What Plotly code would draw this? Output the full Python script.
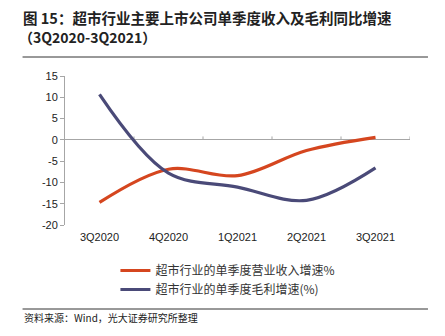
import plotly.graph_objects as go

categories = ["3Q2020", "4Q2020", "1Q2021", "2Q2021", "3Q2021"]
revenue_growth = [-14.7, -6.9, -8.4, -2.5, 0.6]
gross_profit_growth = [10.7, -7.8, -11.1, -14.2, -6.6]
y_ticks = [15, 10, 5, 0, -5, -10, -15, -20]

series_names = ["超市行业的单季度营业收入增速%", "超市行业的单季度毛利增速(%)"]
colors = ["#D5461F", "#4A4A78"]

W, H = 445, 336
L, R, T, B = 64.5, 35, 76, 111
PW, PH = W - L - R, H - T - B


def px(x):
    return (x - L) / PW


def py(y):
    return (H - y - B) / PH


fig = go.Figure()
for name, vals, c in zip(series_names, [revenue_growth, gross_profit_growth], colors):
    fig.add_trace(go.Scatter(
        x=list(range(len(categories))), y=vals, name=name, mode="lines",
        line=dict(color=c, width=3.2, shape="spline", smoothing=1.0),
    ))

# small tick marks on the zero-line x axis at category boundaries
for b in [0.5, 1.5, 2.5, 3.5, 4.5]:
    fig.add_shape(type="line", xref="x", yref="y", x0=b, x1=b, y0=0, y1=0.8,
                  line=dict(color="#A6A6A6", width=1), layer="below")

fig.update_layout(
    width=W, height=H,
    margin=dict(l=L, r=R, t=T, b=B),
    paper_bgcolor="white", plot_bgcolor="white",
    font=dict(family="Liberation Sans, Arial, sans-serif", size=11, color="#222222"),
    showlegend=True,
    legend=dict(
        x=px(115), y=py(256),
        xanchor="left", yanchor="top",
        font=dict(family="Noto Sans CJK SC", size=12, color="#333333"),
        tracegroupgap=0, itemwidth=30, bgcolor="rgba(0,0,0,0)",
    ),
    xaxis=dict(
        range=[-0.5, 4.5], tickmode="array", tickvals=list(range(len(categories))),
        ticktext=categories, showgrid=False, showline=False, zeroline=False,
        ticks="", tickfont=dict(size=11, color="#222222"), ticklabelstandoff=4,
    ),
    yaxis=dict(
        range=[-20, 15], tickmode="array", tickvals=y_ticks,
        ticktext=[str(v) for v in y_ticks], showgrid=False,
        showline=True, linecolor="#A6A6A6", linewidth=1,
        ticks="outside", ticklen=4, tickcolor="#A6A6A6",
        zeroline=True, zerolinecolor="#A6A6A6", zerolinewidth=1,
        tickfont=dict(size=11, color="#222222"),
    ),
)

# Title (two lines)
fig.add_annotation(xref="paper", yref="paper", x=px(21), y=py(17),
                   xanchor="left", yanchor="middle", showarrow=False, borderpad=0,
                   text="<b>图 15：超市行业主要上市公司单季度收入及毛利同比增速</b>",
                   font=dict(family="Noto Sans CJK SC", size=14.5, color="#222222"))
fig.add_annotation(xref="paper", yref="paper", x=px(17), y=py(36.5),
                   xanchor="left", yanchor="middle", showarrow=False, borderpad=0,
                   text="<b>（3Q2020-3Q2021）</b>",
                   font=dict(family="Noto Sans CJK SC", size=14, color="#222222"))
# rules
for yy in [57, 309]:
    fig.add_shape(type="line", xref="paper", yref="paper",
                  x0=px(22), x1=px(428), y0=py(yy), y1=py(yy),
                  line=dict(color="#333333", width=1))
# source
fig.add_annotation(xref="paper", yref="paper", x=px(21), y=py(317),
                   xanchor="left", yanchor="middle", showarrow=False,
                   text="资料来源：Wind，光大证券研究所整理",
                   font=dict(family="Noto Sans CJK SC", size=10, color="#222222"))

fig.write_html("out.html")
